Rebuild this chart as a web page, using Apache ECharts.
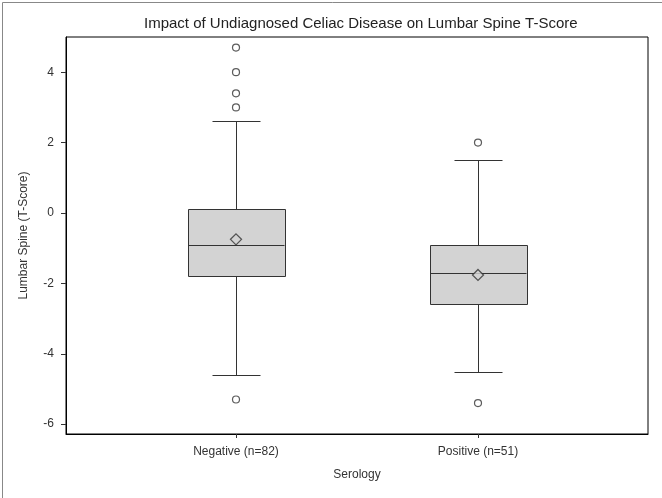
<!DOCTYPE html>
<html>
<head>
<meta charset="utf-8">
<script src="https://cdn.jsdelivr.net/npm/echarts@6/dist/echarts.min.js"></script>
<style>html,body{margin:0;padding:0;background:#fff}#c{width:662px;height:498px}</style>
</head>
<body>
<div id="c"></div>
<script>
var categories = ['Negative (n=82)', 'Positive (n=51)'];
var whiskerLow = [-4.6, -4.53];
var q1 = [-1.8, -2.6];
var median = [-0.9, -1.7];
var q3 = [0.1, -0.92];
var whiskerHigh = [2.6, 1.5];
var means = [-0.75, -1.76];
var outliers = [[0, 4.7], [0, 4.0], [0, 3.4], [0, 3.0], [0, -5.3], [1, 2.0], [1, -5.4]];
var yTicks = [-6, -4, -2, 0, 2, 4];

var boxData = categories.map(function (c, i) {
  return [i, whiskerLow[i], q1[i], median[i], q3[i], whiskerHigh[i]];
});
var meanData = categories.map(function (c, i) { return [i, means[i]]; });

var FONT = '"Liberation Sans", Arial, sans-serif';
var chart = echarts.init(document.getElementById('c'), null, {renderer: 'canvas'});
var halfBox = 0.2, halfCap = 0.1;

chart.setOption({
  animation: false,
  backgroundColor: '#fff',
  title: {
    text: 'Impact of Undiagnosed Celiac Disease on Lumbar Spine T-Score',
    left: 139, top: 11,
    textStyle: {fontFamily: FONT, fontSize: 15, fontWeight: 'normal', color: '#222'}
  },
  graphic: [{
    type: 'rect', left: 0, top: 0, silent: true,
    shape: {x: 0.5, y: 0.5, width: 661, height: 497},
    style: {fill: 'none', stroke: '#888', lineWidth: 1}
  }],
  grid: {left: 66, top: 37, right: 14, bottom: 64, show: true, borderColor: '#000', borderWidth: 1, backgroundColor: 'transparent'},
  xAxis: {
    type: 'value', min: -0.7025, max: 1.7025,
    name: 'Serology', nameLocation: 'middle', nameGap: 35,
    nameTextStyle: {fontFamily: FONT, fontSize: 12, color: '#333'},
    axisLine: {show: true, onZero: false, lineStyle: {color: '#000'}},
    axisTick: {show: true, length: 4, customValues: [0, 1], lineStyle: {color: '#333'}},
    axisLabel: {customValues: [0, 1], margin: 12, fontFamily: FONT, fontSize: 12, color: '#333',
      formatter: function (v) { return categories[Math.round(v)]; }},
    splitLine: {show: false}
  },
  yAxis: {
    type: 'value', min: -6.28, max: 5.0,
    name: 'Lumbar Spine (T-Score)', nameLocation: 'middle', nameGap: 36,
    nameTextStyle: {fontFamily: FONT, fontSize: 12, color: '#333'},
    axisLine: {show: true, onZero: false, lineStyle: {color: '#000'}},
    axisTick: {show: true, length: 5, customValues: yTicks, lineStyle: {color: '#333'}},
    axisLabel: {customValues: yTicks, margin: 12, fontFamily: FONT, fontSize: 12, color: '#333'},
    splitLine: {show: false}
  },
  series: [
    {
      type: 'custom',
      data: boxData,
      encode: {x: 0, y: [1, 2, 3, 4, 5]},
      renderItem: function (params, api) {
        var x = api.value(0);
        var lo = api.value(1), a = api.value(2), m = api.value(3), b = api.value(4), hi = api.value(5);
        var pLo = api.coord([x, lo]), pA = api.coord([x, a]), pM = api.coord([x, m]), pB = api.coord([x, b]), pHi = api.coord([x, hi]);
        var xl = api.coord([x - halfBox, m])[0], xr = api.coord([x + halfBox, m])[0];
        var cl = api.coord([x - halfCap, m])[0], cr = api.coord([x + halfCap, m])[0];
        var cx = Math.round(pM[0]) + 0.5;
        var ls = {stroke: '#333', lineWidth: 1};
        function r(v) { return Math.round(v) + 0.5; }
        return {
          type: 'group',
          children: [
            {type: 'line', shape: {x1: cx, y1: r(pHi[1]), x2: cx, y2: r(pB[1])}, style: ls},
            {type: 'line', shape: {x1: cx, y1: r(pA[1]), x2: cx, y2: r(pLo[1])}, style: ls},
            {type: 'line', shape: {x1: r(cl), y1: r(pHi[1]), x2: r(cr), y2: r(pHi[1])}, style: ls},
            {type: 'line', shape: {x1: r(cl), y1: r(pLo[1]), x2: r(cr), y2: r(pLo[1])}, style: ls},
            {type: 'rect', shape: {x: r(xl), y: r(pB[1]), width: Math.round(xr - xl), height: Math.round(pA[1] - pB[1])},
              style: {fill: '#d3d3d3', stroke: '#333', lineWidth: 1}},
            {type: 'line', shape: {x1: r(xl), y1: r(pM[1]), x2: r(xr), y2: r(pM[1])}, style: ls}
          ]
        };
      },
      z: 2
    },
    {
      type: 'scatter', data: meanData, symbol: 'diamond', symbolSize: [11, 11],
      itemStyle: {color: '#d3d3d3', borderColor: '#333', borderWidth: 1.3}, z: 5
    },
    {
      type: 'scatter', data: outliers, symbol: 'circle', symbolSize: 7,
      itemStyle: {color: '#fff', borderColor: '#333', borderWidth: 1.2}, z: 5
    }
  ]
});
</script>
</body>
</html>
